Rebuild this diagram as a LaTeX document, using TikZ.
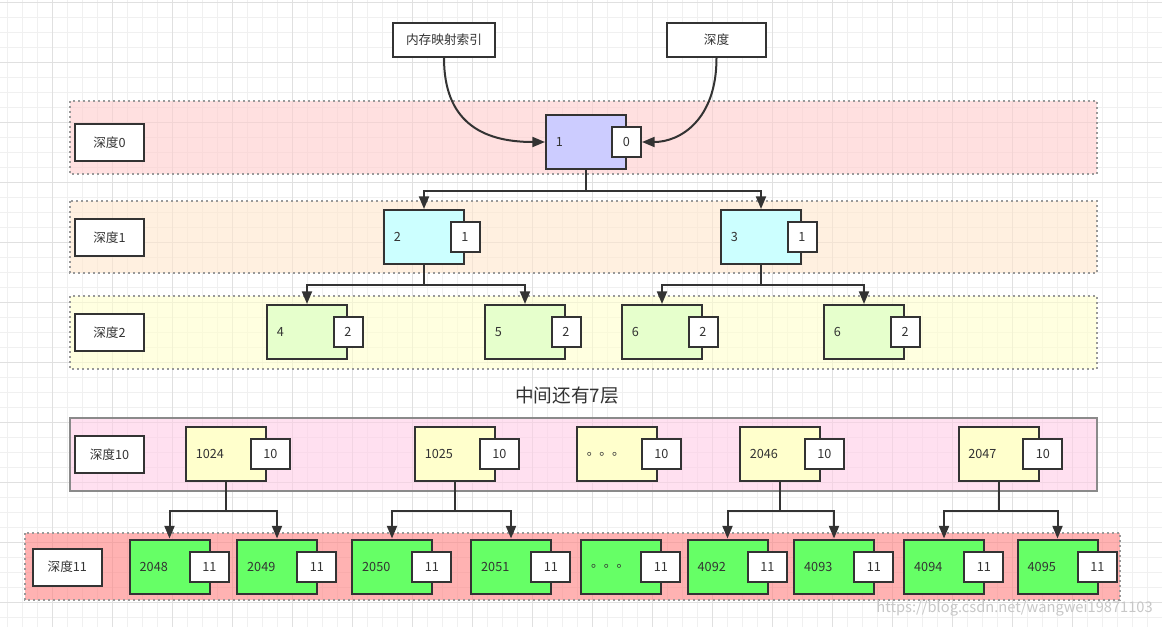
\documentclass[tikz,border=0pt]{standalone}
\usepackage{fontspec}
\setmainfont{Noto Sans CJK SC}
\usetikzlibrary{arrows.meta}
\definecolor{ink}{HTML}{333333}
\definecolor{gminor}{HTML}{F0F0F0}
\definecolor{gmajor}{HTML}{E0E0E0}
\definecolor{bandgray}{HTML}{999999}
\definecolor{cL0}{HTML}{FFCCCC}
\definecolor{cL1}{HTML}{FFE6CC}
\definecolor{cL2}{HTML}{FFFFCC}
\definecolor{cL10}{HTML}{FFCCE6}
\definecolor{cL11}{HTML}{FF8080}
\definecolor{nL0}{HTML}{CCCCFF}
\definecolor{nL1}{HTML}{CCFFFF}
\definecolor{nL2}{HTML}{E6FFCC}
\definecolor{nL10}{HTML}{FFFFCC}
\definecolor{nL11}{HTML}{66FF66}
\begin{document}
\begin{tikzpicture}[x=0.75pt,y=-0.75pt,
  txt/.style={font=\fontsize{9.5}{11}\selectfont, text=ink},
  box/.style={draw=ink, line width=1.5pt, minimum width=60pt, minimum height=40.5pt, inner sep=0pt},
  tag/.style={txt, draw=ink, fill=white, line width=1.5pt, minimum height=22.5pt, minimum width=21.75pt, inner sep=0pt},
  wtag/.style={tag, minimum width=29.25pt},
  lbl/.style={txt, draw=ink, fill=white, line width=1.5pt, minimum width=51.75pt, minimum height=27.75pt, inner sep=0pt},
  topbox/.style={txt, draw=ink, fill=white, line width=1.5pt, minimum height=25.5pt, inner sep=0pt},
  num/.style={txt, anchor=west, inner sep=0pt},
  band/.style={draw=bandgray, line width=1.5pt, dash pattern=on 1.5pt off 2.25pt, fill opacity=0.6},
  arr/.style={draw=ink, line width=1.5pt, -{Triangle[length=9.5pt,width=7.5pt]}},
]
\useasboundingbox (0,0) rectangle (1162,627);
\fill[white] (0,0) rectangle (1162,627);
% grid
\foreach \i in {0,...,77} \draw[gminor, line width=0.75pt] ({7.3+15*\i},0) -- ({7.3+15*\i},627);
\foreach \i in {0,...,41} \draw[gminor, line width=0.75pt] (0,{2.3+15*\i}) -- (1162,{2.3+15*\i});
\foreach \i in {0,...,18} \draw[gmajor, line width=0.75pt] ({-7.7+60*\i},0) -- ({-7.7+60*\i},627);
\foreach \i in {0,...,10} \draw[gmajor, line width=0.75pt] (0,{2.3+60*\i}) -- (1162,{2.3+60*\i});

% bands
\path[band, fill=cL0] (70,101) rectangle (1097,174);
\path[band, fill=cL1] (70,201) rectangle (1097,273);
\path[band, fill=cL2] (70,296) rectangle (1097,369);
\path[draw=bandgray!90!black, line width=1.5pt, fill=cL10, fill opacity=0.6] (70,418) rectangle (1097,491);
\path[band, fill=cL11] (25,533) rectangle (1120,600);

% level labels
\node[lbl] (d0) at (109.5,142.5) {深度0};
\node[lbl] (d1) at (109.5,237.5) {深度1};
\node[lbl] (d2) at (109.5,332.5) {深度2};
\node[lbl] (d10) at (109.5,454.5) {深度10};
\node[lbl] (d11) at (67.3,567) {深度11};

% top boxes
\node[topbox, minimum width=76.5pt] (idx) at (444,40) {内存映射索引};
\node[topbox, minimum width=74.25pt] (dep) at (716.5,40) {深度};

% level 0
\node[box, fill=nL0] (n1) at (586,142) {};
\node[num] at ([xshift=7.9pt]n1.west) {1};
\node[tag] (n1t) at ([xshift=-0.4pt]n1.east) {0};

% level 1
\foreach \nm/\x/\t in {n2/424/2, n3/761/3}{
  \node[box, fill=nL1] (\nm) at (\x,237) {};
  \node[num] at ([xshift=7.9pt]\nm.west) {\t};
  \node[tag] (\nm t) at (\nm.east) {1};
}

% level 2
\foreach \nm/\x/\t in {n4/307/4, n5/525/5, n6/662/6, n7/864/6}{
  \node[box, fill=nL2] (\nm) at (\x,332) {};
  \node[num] at ([xshift=7.9pt]\nm.west) {\t};
  \node[tag] (\nm t) at (\nm.east) {2};
}

\node[font=\fontsize{14}{16}\selectfont, text=ink] (mid) at (567,395) {中间还有7层};

% level 10
\foreach \nm/\x/\t in {m1/226/1024, m2/455/1025, m3/617/。。。, m4/780/2046, m5/998.5/2047}{
  \node[box, fill=nL10] (\nm) at (\x,454) {};
  \node[num] at ([xshift=7.9pt]\nm.west) {\t};
  \node[wtag] (\nm t) at ([xshift=2.6pt]\nm.east) {10};
}

% level 11
\foreach \nm/\x/\t in {k1/169.5/2048, k2/277/2049, k3/392/2050, k4/511/2051, k5/621/。。。, k6/727.5/4092, k7/834/4093, k8/944/4094, k9/1057.5/4095}{
  \node[box, fill=nL11] (\nm) at (\x,566.5) {};
  \node[num] at ([xshift=8.2pt]\nm.west) {\t};
  \node[wtag] (\nm t) at ([xshift=-0.8pt]\nm.east) {11};
}

% curved inputs
\draw[arr] (idx.south) .. controls (444,120) and (480,142) .. (n1.west);
\draw[arr] (dep.south) .. controls (716.5,120) and (680,142) .. (n1t.east);

% tree connectors
\draw[arr] (n1.south) -- ++(0,21) -| (n2.north);
\draw[arr] (n1.south) -- ++(0,21) -| (n3.north);
\draw[arr] (n2.south) -- ++(0,20) -| (n4.north);
\draw[arr] (n2.south) -- ++(0,20) -| (n5.north);
\draw[arr] (n3.south) -- ++(0,20) -| (n6.north);
\draw[arr] (n3.south) -- ++(0,20) -| (n7.north);
\draw[arr] (m1.south) -- ++(0,29) -| (k1.north);
\draw[arr] (m1.south) -- ++(0,29) -| (k2.north);
\draw[arr] (m2.south) -- ++(0,29) -| (k3.north);
\draw[arr] (m2.south) -- ++(0,29) -| (k4.north);
\draw[arr] (m4.south) -- ++(0,29) -| (k6.north);
\draw[arr] (m4.south) -- ++(0,29) -| (k7.north);
\draw[arr] (m5.south) -- ++(0,29) -| (k8.north);
\draw[arr] (m5.south) -- ++(0,29) -| (k9.north);

% watermark
\node[anchor=east, font=\fontsize{11}{12}\selectfont, text=black!22, inner sep=0pt] (wm) at (1153,608) {https://blog.csdn.net/wangwei19871103};
\end{tikzpicture}
\end{document}
